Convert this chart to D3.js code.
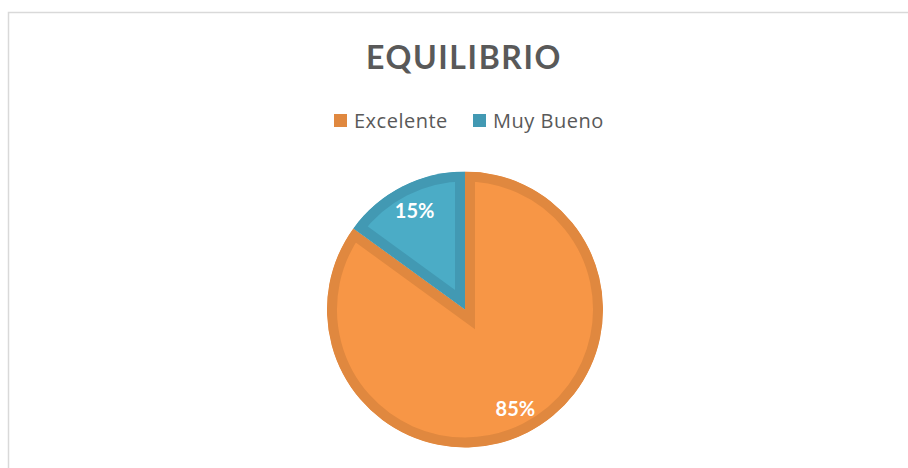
<!DOCTYPE html>
<html>
<head>
<meta charset="utf-8">
<script src="https://cdn.jsdelivr.net/npm/d3@7"></script>
<style>
body { margin: 0; background: #fff; }
svg { display: block; }
</style>
</head>
<body>
<div id="chart"></div>
<script>
// data
var categories = ["Excelente", "Muy Bueno"];
var values = [85, 15];
var labels = ["85%", "15%"];
var fills = ["#F79646", "#4BACC6"];
var borders = ["#E0883F", "#4299B3"];

var width = 908, height = 468;
var cx = 465, cy = 309.5, radius = 138, borderW = 10;

var svg = d3.select("#chart")
  .append("svg")
  .attr("width", width)
  .attr("height", height);

// chart area frame
svg.append("rect")
  .attr("x", 8.5)
  .attr("y", 12.5)
  .attr("width", 1000)
  .attr("height", 1000)
  .attr("fill", "none")
  .attr("stroke", "#d9d9d9")
  .attr("stroke-width", 1.5);

// title
svg.append("text")
  .text("EQUILIBRIO")
  .attr("x", 464)
  .attr("y", 69)
  .attr("text-anchor", "middle")
  .style("font-family", "Lato, 'Open Sans', sans-serif")
  .style("font-weight", "bold")
  .style("font-size", "32px")
  .style("letter-spacing", "1.6px")
  .style("fill", "#595959");

// legend
var legendX = [334, 473];
var legend = svg.append("g");
categories.forEach(function(c, i) {
  legend.append("rect")
    .attr("x", legendX[i])
    .attr("y", 114)
    .attr("width", 13)
    .attr("height", 13)
    .attr("fill", borders[i]);
  legend.append("text")
    .text(c)
    .attr("x", legendX[i] + 20)
    .attr("y", 128)
    .style("font-family", "'Open Sans', sans-serif")
    .style("font-size", "20px")
    .style("letter-spacing", "0.5px")
    .style("fill", "#595959");
});

// pie
var pie = d3.pie().sort(null).value(function(d){ return d; });
var arcs = pie(values);
var arc = d3.arc().innerRadius(0).outerRadius(radius);
var labelArc = d3.arc().innerRadius(111).outerRadius(111);

var g = svg.append("g")
  .attr("transform", "translate(" + cx + "," + cy + ")");

var defs = svg.append("defs");
arcs.forEach(function(a, i) {
  defs.append("clipPath")
    .attr("id", "clip" + i)
    .append("path")
    .attr("d", arc(a));
});

g.selectAll("path.slice")
  .data(arcs)
  .enter()
  .append("path")
  .attr("class", "slice")
  .attr("d", arc)
  .attr("fill", function(d, i){ return fills[i]; })
  .attr("stroke", function(d, i){ return borders[i]; })
  .attr("stroke-width", borderW * 2)
  .attr("stroke-linejoin", "miter")
  .attr("clip-path", function(d, i){ return "url(#clip" + i + ")"; });

g.selectAll("text.lbl")
  .data(arcs)
  .enter()
  .append("text")
  .attr("class", "lbl")
  .text(function(d, i){ return labels[i]; })
  .attr("transform", function(d){ return "translate(" + labelArc.centroid(d) + ")"; })
  .attr("text-anchor", "middle")
  .attr("dy", "0.36em")
  .style("font-family", "Lato, 'Open Sans', sans-serif")
  .style("font-weight", "bold")
  .style("font-size", "20px")
  .style("fill", "#ffffff");
</script>
</body>
</html>
